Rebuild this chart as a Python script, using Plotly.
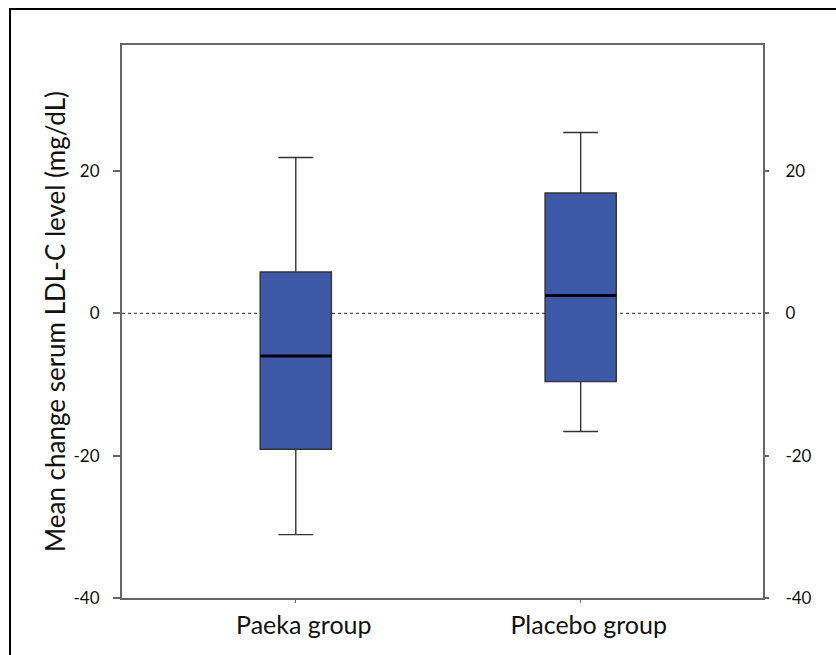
import plotly.graph_objects as go

# ---- data ----
categories = ["Paeka group", "Placebo group"]
lower_whisker = [-31.1, -16.6]
q1_values = [-19.1, -9.6]
median_values = [-6.0, 2.5]
q3_values = [5.8, 16.9]
upper_whisker = [21.9, 25.4]
y_ticks = [-40, -20, 0, 20]
y_tick_labels = [str(v) for v in y_ticks]

positions = list(range(len(categories)))
BOX_W = 0.25
FONT = "Lato, 'Open Sans', sans-serif"
AXIS_COLOR = "#666666"

fig = go.Figure()

fig.add_trace(go.Box(
    x=positions,
    q1=q1_values,
    median=median_values,
    q3=q3_values,
    lowerfence=lower_whisker,
    upperfence=upper_whisker,
    width=BOX_W,
    whiskerwidth=0.49,
    fillcolor="rgb(62,88,168)",
    line=dict(color="#333333", width=1.4),
    boxpoints=False,
    hoverinfo="skip",
    showlegend=False,
))

# black median bars drawn over the boxes
mx, my = [], []
for p, m in zip(positions, median_values):
    mx += [p - BOX_W / 2, p + BOX_W / 2, None]
    my += [m, m, None]
fig.add_trace(go.Scatter(
    x=mx, y=my, mode="lines", yaxis="y2",
    line=dict(color="#000000", width=3),
    hoverinfo="skip", showlegend=False,
))

yrange = [-40, 37.7]

fig.update_layout(
    width=836, height=655,
    margin=dict(l=122, r=73, t=45, b=57),
    paper_bgcolor="white", plot_bgcolor="white",
    font=dict(family=FONT, color="#111111", size=17),
    xaxis=dict(
        range=[-0.61, 1.64],
        tickmode="array", tickvals=positions, ticktext=categories,
        tickfont=dict(size=25, family=FONT, color="#111111"),
        showgrid=False, zeroline=False,
        showline=True, linecolor=AXIS_COLOR, linewidth=2, mirror=True,
        ticks="outside", ticklen=3, tickcolor=AXIS_COLOR,
        ticklabelstandoff=1, ticklabelshift=8,
    ),
    yaxis=dict(
        range=yrange,
        tickmode="array", tickvals=y_ticks, ticktext=y_tick_labels,
        showgrid=False, zeroline=False,
        showline=True, linecolor=AXIS_COLOR, linewidth=2,
        ticks="outside", ticklen=7, tickwidth=1.5, tickcolor=AXIS_COLOR,
        ticklabelstandoff=10,
        tickfont=dict(size=17, family=FONT, color="#111111"),
        title=dict(text="Mean change serum LDL-C level (mg/dL)",
                   font=dict(size=26, family=FONT, color="#111111"),
                   standoff=0),
    ),
    yaxis2=dict(
        range=yrange, overlaying="y", side="right", anchor="x",
        tickmode="array", tickvals=y_ticks, ticktext=y_tick_labels,
        showgrid=False, zeroline=False,
        showline=True, linecolor=AXIS_COLOR, linewidth=2,
        ticks="outside", ticklen=4, tickwidth=1.5, tickcolor=AXIS_COLOR,
        ticklabelstandoff=13,
        tickfont=dict(size=17, family=FONT, color="#111111"),
    ),
    shapes=[
        dict(type="line", xref="paper", yref="y", x0=0, x1=1, y0=0, y1=0,
             line=dict(color="#555555", width=1.2, dash="3px,3px"), layer="below"),
        dict(type="rect", xref="paper", yref="paper",
             x0=(10 - 122) / 641, x1=1.3, y0=-0.3, y1=(598 - 9) / 553,
             line=dict(color="#000000", width=2), fillcolor="rgba(0,0,0,0)"),
    ],
)

fig.write_html("out.html")
